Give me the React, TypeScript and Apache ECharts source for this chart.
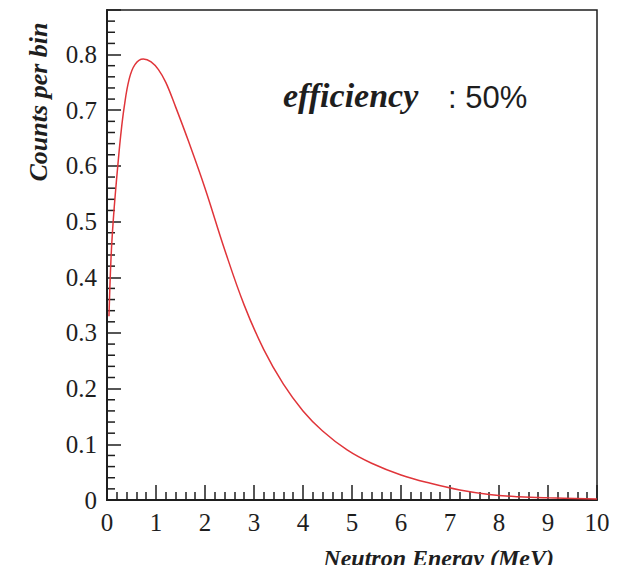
import React, { useEffect, useRef } from "react";
import * as echarts from "echarts";

const energy = [0.04, 0.06, 0.08, 0.1, 0.13, 0.17, 0.22, 0.28, 0.35, 0.45, 0.57, 0.74, 0.9, 1.05, 1.2, 1.4, 1.66, 2.0, 2.4, 2.8, 3.2, 3.6, 4.0, 4.4, 4.9, 5.4, 6.0, 6.6, 7.2, 7.8, 8.4, 9.0, 10.0];
const counts = [0.33, 0.385, 0.43, 0.465, 0.505, 0.55, 0.6, 0.655, 0.705, 0.755, 0.782, 0.792, 0.787, 0.773, 0.75, 0.706, 0.645, 0.56, 0.45, 0.35, 0.27, 0.208, 0.16, 0.124, 0.09, 0.066, 0.045, 0.03, 0.018, 0.01, 0.006, 0.004, 0.002];
const xTicks = [0, 1, 2, 3, 4, 5, 6, 7, 8, 9, 10];
const yTicks = [0, 0.1, 0.2, 0.3, 0.4, 0.5, 0.6, 0.7, 0.8];
const yMax = 0.88;
const yMinorStep = 0.02;
const xTitle = "Neutron Energy (MeV)";
const yTitle = "Counts per bin";
const noteLabel = "efficiency";
const noteValue = ": 50%";

const SERIF = "'Liberation Serif', 'Times New Roman', serif";
const SANS = "'Liberation Sans', Arial, sans-serif";
const INK = "#1e1e1e";
const MINOR_TICK_PX = 8;

export default function App() {
  const ref = useRef<HTMLDivElement>(null);
  useEffect(() => {
    if (!ref.current) return;
    const chart = echarts.init(ref.current, undefined, { renderer: "svg" });
    const data = energy.map((e, i) => [e, counts[i]]);
    const isMajorY = (v: number) => yTicks.some((t) => Math.abs(t - v) < 1e-6);
    const minorValues: number[] = [];
    yTicks.forEach((t) => {
      for (let k = 1; k < 5; k++) {
        const v = Math.round((t + k * yMinorStep) * 1000) / 1000;
        if (v < yMax - 1e-6) minorValues.push(v);
      }
    });
    chart.setOption({
      animation: false,
      backgroundColor: "#ffffff",
      grid: {
        left: 107,
        right: 30,
        top: 10,
        bottom: 73,
        show: true,
        borderColor: INK,
        borderWidth: 1.5,
        backgroundColor: "transparent",
      },
      xAxis: {
        type: "value",
        min: xTicks[0],
        max: xTicks[xTicks.length - 1],
        interval: 1,
        position: "bottom",
        axisLine: { show: true, lineStyle: { color: INK, width: 2 } },
        axisTick: { show: true, inside: true, length: 15, lineStyle: { color: INK, width: 1.5 } },
        minorTick: { show: true, splitNumber: 5, length: 8, lineStyle: { color: INK, width: 1.5 } },
        splitLine: { show: false },
        axisLabel: {
          margin: 10,
          fontFamily: SERIF,
          fontSize: 25,
          color: INK,
          formatter: (v: number) => String(Math.round(v)),
        },
      },
      yAxis: {
        type: "value",
        min: 0,
        max: yMax,
        interval: 0.1,
        position: "left",
        axisLine: { show: true, lineStyle: { color: INK, width: 2 } },
        axisTick: { show: true, inside: true, length: 14, lineStyle: { color: INK, width: 1.5 } },
        splitLine: { show: false },
        axisLabel: {
          margin: 10,
          fontFamily: SERIF,
          fontSize: 25,
          color: INK,
          formatter: (v: number) => (isMajorY(v) ? (v === 0 ? "0" : v.toFixed(1)) : ""),
        },
      },
      series: [
        {
          type: "line",
          data,
          smooth: 0.4,
          showSymbol: false,
          symbol: "none",
          lineStyle: { color: "#e0353a", width: 1.5 },
        },
        {
          type: "custom",
          silent: true,
          clip: false,
          encode: { x: 0, y: 1 },
          data: minorValues.map((v) => [xTicks[0], v]),
          renderItem: (_params: any, api: any) => {
            const p = api.coord([api.value(0), api.value(1)]);
            return {
              type: "line",
              shape: { x1: p[0], y1: p[1], x2: p[0] + MINOR_TICK_PX, y2: p[1] },
              style: { stroke: INK, lineWidth: 1.5 },
            };
          },
        },
      ],
      graphic: [
        {
          type: "text",
          x: 38,
          y: 102,
          rotation: Math.PI / 2,
          style: {
            text: yTitle,
            font: `italic bold 26px ${SERIF}`,
            fill: INK,
            align: "center",
            verticalAlign: "middle",
          },
        },
        {
          type: "text",
          x: 554,
          y: 558,
          style: {
            text: xTitle,
            font: `italic bold 24px ${SERIF}`,
            fill: INK,
            align: "right",
            verticalAlign: "middle",
          },
        },
        {
          type: "text",
          x: 283,
          y: 95,
          style: {
            text: noteLabel,
            font: `italic bold 34px ${SERIF}`,
            fill: INK,
            align: "left",
            verticalAlign: "middle",
          },
        },
        {
          type: "text",
          x: 448,
          y: 97,
          style: {
            text: noteValue,
            font: `31px ${SANS}`,
            fill: INK,
            align: "left",
            verticalAlign: "middle",
          },
        },
      ],
    });
    return () => chart.dispose();
  }, []);
  return <div ref={ref} style={{ width: 627, height: 573, margin: -8 }} />;
}
